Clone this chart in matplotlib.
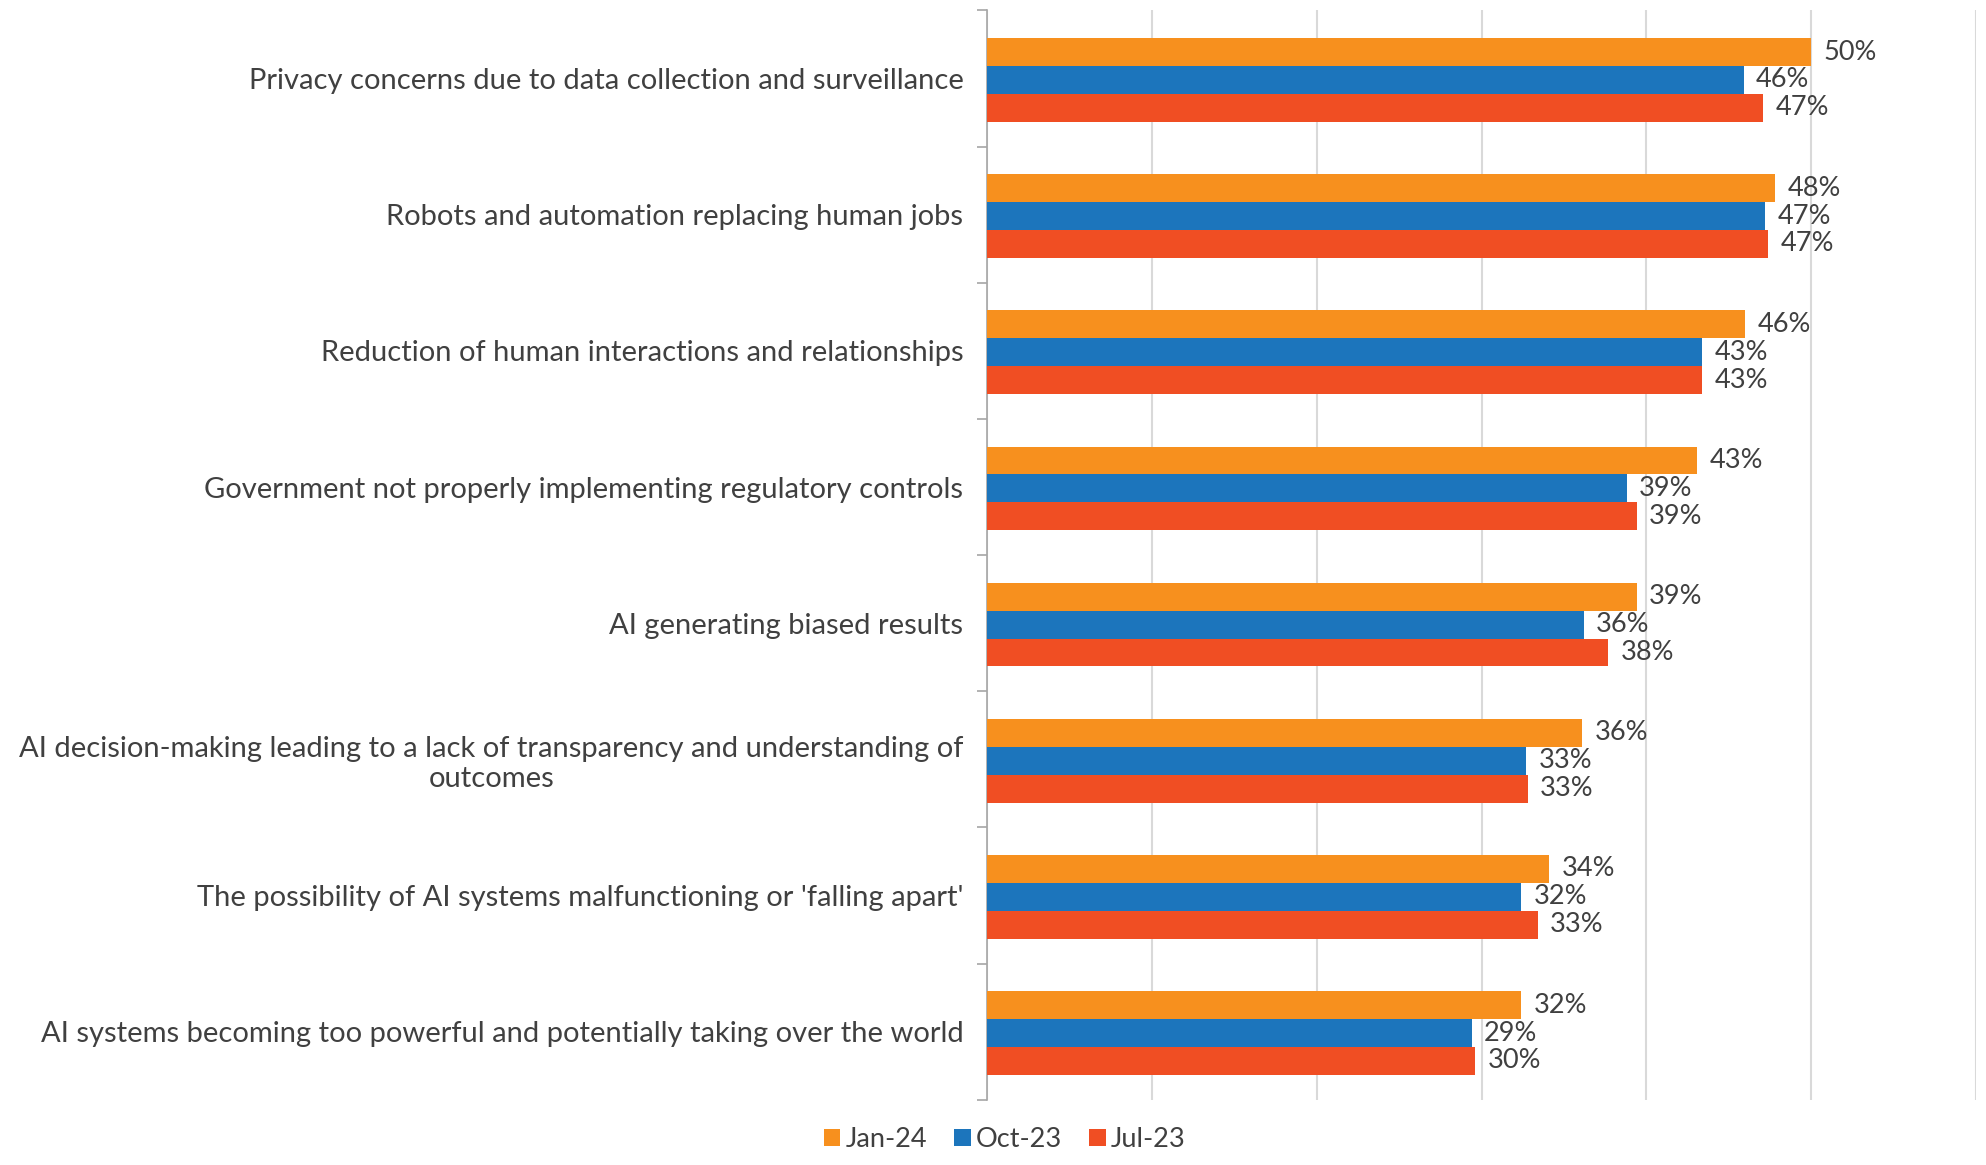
import numpy as np
import matplotlib
matplotlib.use('Agg')
import matplotlib.pyplot as plt

plt.rcParams['font.family'] = ['Lato', 'DejaVu Sans']

categories = [
    'Privacy concerns due to data collection and surveillance',
    'Robots and automation replacing human jobs',
    'Reduction of human interactions and relationships',
    'Government not properly implementing regulatory controls',
    'AI generating biased results',
    'AI decision-making leading to a lack of transparency and understanding of\noutcomes',
    "The possibility of AI systems malfunctioning or 'falling apart'",
    'AI systems becoming too powerful and potentially taking over the world',
]
series_names = ['Jan-24', 'Oct-23', 'Jul-23']
jan24 = [50.0, 47.8, 46.0, 43.1, 39.4, 36.1, 34.1, 32.4]
oct23 = [45.9, 47.2, 43.4, 38.8, 36.2, 32.7, 32.4, 29.4]
jul23 = [47.1, 47.4, 43.4, 39.4, 37.7, 32.8, 33.4, 29.6]
colors = ['#F7901E', '#1C75BC', '#F04E23']

fig = plt.figure(figsize=(19.86, 11.65), dpi=100)
ax = fig.add_axes([0.497, 0.056, 0.498, 0.935])

y = np.arange(len(categories))
h = 0.205
for k, (vals, name, c) in enumerate(zip([jan24, oct23, jul23], series_names, colors)):
    pos = y + (k - 1) * h + 0.01
    ax.barh(pos, vals, height=h, color=c, label=name, zorder=3)
    for p, v in zip(pos, vals):
        ax.annotate('%d%%' % round(v), (v, p), xytext=(9, 0), textcoords='offset points',
                    va='center', ha='left', fontsize=19.5, color='#404040')

ax.set_xlim(0, 60)
ax.set_ylim(len(categories) - 0.5, -0.5)
ax.set_xticks(np.arange(0, 61, 10))
ax.set_xticklabels([])
ax.tick_params(axis='x', length=0)
ax.grid(axis='x', color='#D9D9D9', linewidth=1.5, zorder=0)

# tick marks between groups, labels at the group centres
ax.set_yticks(np.arange(-0.5, len(categories), 1.0))
ax.set_yticklabels([])
ax.tick_params(axis='y', which='major', length=7, color='#A6A6A6', width=1.2)
ax.set_yticks(y, minor=True)
ax.set_yticklabels(categories, minor=True, fontsize=21, color='#404040')
ax.tick_params(axis='y', which='minor', length=0, pad=17)
for lab in ax.get_yticklabels(minor=True):
    lab.set_multialignment('center')

for s in ['top', 'right', 'bottom']:
    ax.spines[s].set_visible(False)
ax.spines['left'].set_color('#A6A6A6')
ax.spines['left'].set_linewidth(1.2)

fig.legend(loc='lower center', bbox_to_anchor=(0.506, -0.01), ncol=3, frameon=False,
           fontsize=19.5, handlelength=0.6, handleheight=0.6, handletextpad=0.2,
           columnspacing=1.0, labelcolor='#404040')

fig.savefig('out.png', dpi=100)
